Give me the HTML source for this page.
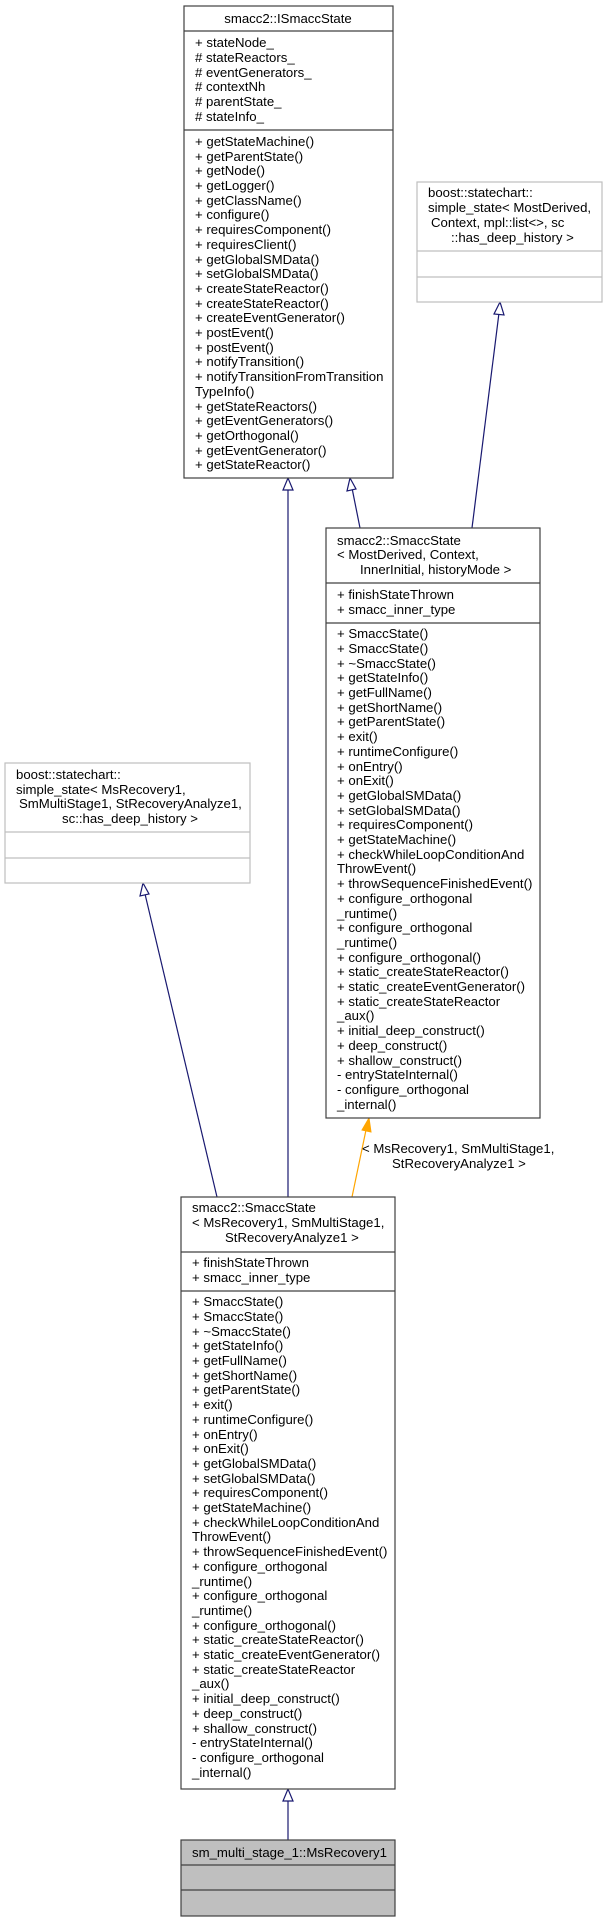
<!DOCTYPE html>
<html><head><meta charset="utf-8"><style>
html,body{margin:0;padding:0;background:#fff;}
svg{display:block;}
text{font-family:"Liberation Sans",Arial,sans-serif;font-size:13.2px;fill:#000;}
</style></head><body>
<svg width="605" height="1919" viewBox="0 0 605 1919" xmlns="http://www.w3.org/2000/svg">
<g stroke="#191970" stroke-width="1.2" fill="none">
<line x1="288" y1="1197" x2="288" y2="489"/>
<line x1="360" y1="528" x2="352" y2="488"/>
<line x1="472" y1="528" x2="499" y2="313"/>
<line x1="217" y1="1197" x2="145" y2="894"/>
<line x1="288" y1="1840" x2="288" y2="1800"/>
</g>
<g stroke="#191970" stroke-width="1.2" fill="#fff">
<polygon points="288,478 283,490 293,490"/>
<polygon points="350,478 347,491 356,489"/>
<polygon points="500,302 494,314 504,315"/>
<polygon points="143,883 140,896 149,894"/>
<polygon points="288,1789 283,1801 293,1801"/>
</g>
<line x1="352" y1="1197" x2="366" y2="1130" stroke="orange" stroke-width="1.2"/>
<polygon points="369,1118 362,1130 371,1132" fill="orange" stroke="orange"/>
<text x="362" y="1153">&lt; MsRecovery1, SmMultiStage1,</text>
<text x="392" y="1168">StRecoveryAnalyze1 &gt;</text>

<g stroke="#404040" stroke-width="1.2" fill="#fff">
<rect x="184" y="6" width="209" height="472"/>
<line x1="184" y1="31" x2="393" y2="31"/>
<line x1="184" y1="130" x2="393" y2="130"/>
</g>
<text x="288" y="23" text-anchor="middle">smacc2::ISmaccState</text>
<g>
<text x="195" y="47">+ stateNode_</text>
<text x="195" y="62"># stateReactors_</text>
<text x="195" y="77"># eventGenerators_</text>
<text x="195" y="91"># contextNh</text>
<text x="195" y="106"># parentState_</text>
<text x="195" y="121"># stateInfo_</text>
<text x="195" y="146">+ getStateMachine()</text>
<text x="195" y="161">+ getParentState()</text>
<text x="195" y="175">+ getNode()</text>
<text x="195" y="190">+ getLogger()</text>
<text x="195" y="205">+ getClassName()</text>
<text x="195" y="219">+ configure()</text>
<text x="195" y="234">+ requiresComponent()</text>
<text x="195" y="249">+ requiresClient()</text>
<text x="195" y="264">+ getGlobalSMData()</text>
<text x="195" y="278">+ setGlobalSMData()</text>
<text x="195" y="293">+ createStateReactor()</text>
<text x="195" y="308">+ createStateReactor()</text>
<text x="195" y="322">+ createEventGenerator()</text>
<text x="195" y="337">+ postEvent()</text>
<text x="195" y="352">+ postEvent()</text>
<text x="195" y="366">+ notifyTransition()</text>
<text x="195" y="381">+ notifyTransitionFromTransition</text>
<text x="195" y="396">TypeInfo()</text>
<text x="195" y="411">+ getStateReactors()</text>
<text x="195" y="425">+ getEventGenerators()</text>
<text x="195" y="440">+ getOrthogonal()</text>
<text x="195" y="455">+ getEventGenerator()</text>
<text x="195" y="469">+ getStateReactor()</text>
</g>

<g stroke="#bfbfbf" stroke-width="1.2" fill="#fff">
<rect x="417" y="182" width="185" height="120"/>
<line x1="417" y1="251" x2="602" y2="251"/>
<line x1="417" y1="277" x2="602" y2="277"/>
</g>
<text x="428" y="197">boost::statechart::</text>
<text x="428" y="212">simple_state&lt; MostDerived,</text>
<text x="431" y="227">Context, mpl::list&lt;&gt;, sc</text>
<text x="451" y="242">::has_deep_history &gt;</text>

<g stroke="#404040" stroke-width="1.2" fill="#fff">
<rect x="326" y="528" width="214" height="590"/>
<line x1="326" y1="583" x2="540" y2="583"/>
<line x1="326" y1="623" x2="540" y2="623"/>
</g>
<text x="337" y="545">smacc2::SmaccState</text>
<text x="337" y="559">&lt; MostDerived, Context,</text>
<text x="360" y="574">InnerInitial, historyMode &gt;</text>
<text x="337" y="599">+ finishStateThrown</text>
<text x="337" y="614">+ smacc_inner_type</text>
<g>
<text x="337" y="638">+ SmaccState()</text>
<text x="337" y="653">+ SmaccState()</text>
<text x="337" y="668">+ ~SmaccState()</text>
<text x="337" y="682">+ getStateInfo()</text>
<text x="337" y="697">+ getFullName()</text>
<text x="337" y="712">+ getShortName()</text>
<text x="337" y="726">+ getParentState()</text>
<text x="337" y="741">+ exit()</text>
<text x="337" y="756">+ runtimeConfigure()</text>
<text x="337" y="771">+ onEntry()</text>
<text x="337" y="785">+ onExit()</text>
<text x="337" y="800">+ getGlobalSMData()</text>
<text x="337" y="815">+ setGlobalSMData()</text>
<text x="337" y="829">+ requiresComponent()</text>
<text x="337" y="844">+ getStateMachine()</text>
<text x="337" y="859">+ checkWhileLoopConditionAnd</text>
<text x="337" y="873">ThrowEvent()</text>
<text x="337" y="888">+ throwSequenceFinishedEvent()</text>
<text x="337" y="903">+ configure_orthogonal</text>
<text x="337" y="918">_runtime()</text>
<text x="337" y="932">+ configure_orthogonal</text>
<text x="337" y="947">_runtime()</text>
<text x="337" y="962">+ configure_orthogonal()</text>
<text x="337" y="976">+ static_createStateReactor()</text>
<text x="337" y="991">+ static_createEventGenerator()</text>
<text x="337" y="1006">+ static_createStateReactor</text>
<text x="337" y="1020">_aux()</text>
<text x="337" y="1035">+ initial_deep_construct()</text>
<text x="337" y="1050">+ deep_construct()</text>
<text x="337" y="1065">+ shallow_construct()</text>
<text x="337" y="1079">- entryStateInternal()</text>
<text x="337" y="1094">- configure_orthogonal</text>
<text x="337" y="1109">_internal()</text>
</g>

<g stroke="#bfbfbf" stroke-width="1.2" fill="#fff">
<rect x="5" y="763" width="245" height="120"/>
<line x1="5" y1="832" x2="250" y2="832"/>
<line x1="5" y1="858" x2="250" y2="858"/>
</g>
<text x="16" y="779">boost::statechart::</text>
<text x="16" y="794">simple_state&lt; MsRecovery1,</text>
<text x="19" y="808">SmMultiStage1, StRecoveryAnalyze1,</text>
<text x="62" y="823">sc::has_deep_history &gt;</text>

<g stroke="#404040" stroke-width="1.2" fill="#fff">
<rect x="181" y="1197" width="214" height="592"/>
<line x1="181" y1="1252" x2="395" y2="1252"/>
<line x1="181" y1="1291" x2="395" y2="1291"/>
</g>
<text x="192" y="1212">smacc2::SmaccState</text>
<text x="192" y="1227">&lt; MsRecovery1, SmMultiStage1,</text>
<text x="225" y="1242">StRecoveryAnalyze1 &gt;</text>
<text x="192" y="1267">+ finishStateThrown</text>
<text x="192" y="1282">+ smacc_inner_type</text>
<g>
<text x="192" y="1306">+ SmaccState()</text>
<text x="192" y="1321">+ SmaccState()</text>
<text x="192" y="1336">+ ~SmaccState()</text>
<text x="192" y="1350">+ getStateInfo()</text>
<text x="192" y="1365">+ getFullName()</text>
<text x="192" y="1380">+ getShortName()</text>
<text x="192" y="1394">+ getParentState()</text>
<text x="192" y="1409">+ exit()</text>
<text x="192" y="1424">+ runtimeConfigure()</text>
<text x="192" y="1439">+ onEntry()</text>
<text x="192" y="1453">+ onExit()</text>
<text x="192" y="1468">+ getGlobalSMData()</text>
<text x="192" y="1483">+ setGlobalSMData()</text>
<text x="192" y="1497">+ requiresComponent()</text>
<text x="192" y="1512">+ getStateMachine()</text>
<text x="192" y="1527">+ checkWhileLoopConditionAnd</text>
<text x="192" y="1541">ThrowEvent()</text>
<text x="192" y="1556">+ throwSequenceFinishedEvent()</text>
<text x="192" y="1571">+ configure_orthogonal</text>
<text x="192" y="1586">_runtime()</text>
<text x="192" y="1600">+ configure_orthogonal</text>
<text x="192" y="1615">_runtime()</text>
<text x="192" y="1630">+ configure_orthogonal()</text>
<text x="192" y="1644">+ static_createStateReactor()</text>
<text x="192" y="1659">+ static_createEventGenerator()</text>
<text x="192" y="1674">+ static_createStateReactor</text>
<text x="192" y="1688">_aux()</text>
<text x="192" y="1703">+ initial_deep_construct()</text>
<text x="192" y="1718">+ deep_construct()</text>
<text x="192" y="1733">+ shallow_construct()</text>
<text x="192" y="1747">- entryStateInternal()</text>
<text x="192" y="1762">- configure_orthogonal</text>
<text x="192" y="1777">_internal()</text>
</g>

<g stroke="#404040" stroke-width="1.2" fill="#bfbfbf">
<rect x="181" y="1840" width="214" height="76"/>
<line x1="181" y1="1865" x2="395" y2="1865"/>
<line x1="181" y1="1890" x2="395" y2="1890"/>
</g>
<text x="192" y="1857">sm_multi_stage_1::MsRecovery1</text>
</svg>
</body></html>
